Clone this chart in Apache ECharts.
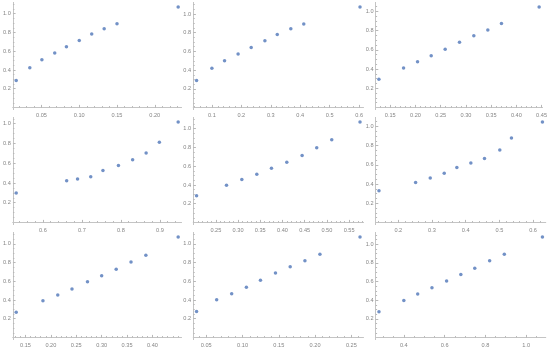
<!DOCTYPE html>
<html>
<head>
<meta charset="utf-8">
<script src="https://cdn.jsdelivr.net/npm/echarts@6/dist/echarts.min.js"></script>
<style>html,body{margin:0;padding:0;background:#fff}#c{width:550px;height:348px}</style>
</head>
<body>
<div id="c"></div>
<script>
// ---- data ----
const p1x = [0.0165, 0.0345, 0.0505, 0.0675, 0.083, 0.100, 0.1165, 0.133, 0.150, 0.231];
const p1y = [0.288, 0.423, 0.509, 0.580, 0.648, 0.715, 0.783, 0.840, 0.893, 1.071];
const p2x = [0.048, 0.100, 0.143, 0.189, 0.2335, 0.280, 0.322, 0.368, 0.412, 0.603];
const p2y = [0.289, 0.421, 0.500, 0.571, 0.643, 0.714, 0.782, 0.843, 0.893, 1.075];
const p3x = [0.1275, 0.1764, 0.2041, 0.2312, 0.2589, 0.2873, 0.3157, 0.3435, 0.3705, 0.4452];
const p3y = [0.293, 0.411, 0.475, 0.539, 0.607, 0.679, 0.746, 0.807, 0.875, 1.046];
const p4x = [0.5317, 0.661, 0.6889, 0.7227, 0.754, 0.7937, 0.8301, 0.8647, 0.8986, 0.9468];
const p4y = [0.299, 0.422, 0.439, 0.463, 0.527, 0.578, 0.636, 0.704, 0.813, 1.017];
const p5x = [0.2066, 0.274, 0.3085, 0.3422, 0.3752, 0.4097, 0.4442, 0.4771, 0.5109, 0.5746];
const p5y = [0.286, 0.396, 0.457, 0.514, 0.579, 0.643, 0.714, 0.796, 0.882, 1.071];
const p6x = [0.1427, 0.2514, 0.2948, 0.3363, 0.3738, 0.4153, 0.4558, 0.5012, 0.5358, 0.6277];
const p6y = [0.331, 0.415, 0.463, 0.512, 0.571, 0.620, 0.666, 0.753, 0.878, 1.045];
const p7x = [0.1318, 0.1844, 0.2136, 0.2416, 0.2721, 0.300, 0.3286, 0.3578, 0.387, 0.4506];
const p7y = [0.270, 0.392, 0.453, 0.518, 0.594, 0.658, 0.727, 0.806, 0.878, 1.072];
const p8x = [0.0366, 0.0643, 0.085, 0.1053, 0.1247, 0.1454, 0.1657, 0.186, 0.2067, 0.262];
const p8y = [0.277, 0.403, 0.468, 0.536, 0.612, 0.687, 0.755, 0.820, 0.888, 1.072];
const p9x = [0.278, 0.400, 0.468, 0.538, 0.6098, 0.6797, 0.748, 0.821, 0.893, 1.080];
const p9y = [0.276, 0.398, 0.467, 0.535, 0.607, 0.676, 0.744, 0.823, 0.892, 1.078];

// ---- tick labels ----
const xTicks1 = [0.05, 0.10, 0.15, 0.20];
const xTicks2 = [0.1, 0.2, 0.3, 0.4, 0.5, 0.6];
const xTicks3 = [0.15, 0.20, 0.25, 0.30, 0.35, 0.40, 0.45];
const xTicks4 = [0.6, 0.7, 0.8, 0.9];
const xTicks5 = [0.25, 0.30, 0.35, 0.40, 0.45, 0.50, 0.55];
const xTicks6 = [0.2, 0.3, 0.4, 0.5, 0.6];
const xTicks7 = [0.15, 0.20, 0.25, 0.30, 0.35, 0.40];
const xTicks8 = [0.05, 0.10, 0.15, 0.20, 0.25];
const xTicks9 = [0.4, 0.6, 0.8, 1.0];
const yTicks = [0.2, 0.4, 0.6, 0.8, 1.0];

const panels = [
  [p1x, p1y, xTicks1], [p2x, p2y, xTicks2], [p3x, p3y, xTicks3],
  [p4x, p4y, xTicks4], [p5x, p5y, xTicks5], [p6x, p6y, xTicks6],
  [p7x, p7y, xTicks7], [p8x, p8y, xTicks8], [p9x, p9y, xTicks9]
];

// ---- layout / style ----
const COL_LEFT = [11.4, 193.3, 375.7];
const ROW_TOP = [2.5, 117.5, 232.5];
const W = 170, H = 107;
const AXIS_COLOR = '#c4c4c4';
const TICK_COLOR = '#b8b8b8';
const LABEL_STYLE = { color: '#858585', fontSize: 5.6, fontFamily: 'Liberation Sans' };
const DOT = '#4F76B8';

const grid = [], xAxis = [], yAxis = [], series = [];
panels.forEach(([xs, ys, xt], i) => {
  const r = Math.floor(i / 3), c = i % 3;
  grid.push({ left: COL_LEFT[c], top: ROW_TOP[r], width: W, height: H });
  const xMinD = Math.min(...xs), xMaxD = Math.max(...xs);
  const pad = 0.02 * (xMaxD - xMinD);
  const xMin = xMinD - pad, xMax = xMaxD + pad;
  const yMaxD = Math.max(...ys);
  const yMin = -0.02 * yMaxD, yMax = 1.045 * yMaxD;
  const step = Math.round((xt[1] - xt[0]) * 1000) / 1000;
  const dec = step < 0.1 ? 2 : 1;
  const mstep = step === 0.05 ? 0.01 : (step === 0.1 ? 0.02 : 0.05);
  const minor = [];
  for (let v = Math.ceil(xMin / mstep) * mstep; v <= xMax; v += mstep) {
    const vv = Math.round(v * 1000) / 1000;
    if (vv >= xMin && vv <= xMax) minor.push(vv);
  }
  const base = {
    type: 'value', gridIndex: i, min: xMin, max: xMax, splitLine: { show: false },
    axisLine: { onZero: true, lineStyle: { color: AXIS_COLOR, width: 1 } }
  };
  xAxis.push(Object.assign({}, base, {
    position: 'bottom',
    axisTick: { show: true, inside: true, length: 2.6, lineStyle: { color: TICK_COLOR }, customValues: xt },
    axisLabel: Object.assign({ margin: 2.5, customValues: xt, formatter: v => v.toFixed(dec) }, LABEL_STYLE)
  }));
  xAxis.push(Object.assign({}, base, {
    position: 'bottom',
    axisTick: { show: true, inside: true, length: 1.4, lineStyle: { color: TICK_COLOR }, customValues: minor },
    axisLabel: { show: false }
  }));
  const yminor = [];
  for (let v = 0.05; v <= yMax; v += 0.05) yminor.push(Math.round(v * 100) / 100);
  const ybase = {
    type: 'value', gridIndex: i, min: yMin, max: yMax, splitLine: { show: false },
    axisLine: { onZero: true, lineStyle: { color: AXIS_COLOR, width: 1 } }
  };
  yAxis.push(Object.assign({}, ybase, {
    position: 'left',
    axisTick: { show: true, inside: true, length: 2.6, lineStyle: { color: TICK_COLOR }, customValues: yTicks },
    axisLabel: Object.assign({ margin: 2.2, customValues: yTicks, formatter: v => v.toFixed(1) }, LABEL_STYLE)
  }));
  yAxis.push(Object.assign({}, ybase, {
    position: 'left',
    axisTick: { show: true, inside: true, length: 1.4, lineStyle: { color: TICK_COLOR }, customValues: yminor },
    axisLabel: { show: false }
  }));
  series.push({
    type: 'scatter', xAxisIndex: 2 * i, yAxisIndex: 2 * i,
    data: xs.map((x, k) => [x, ys[k]]),
    symbolSize: 3.5, itemStyle: { color: DOT }, silent: true
  });
});

const chart = echarts.init(document.getElementById('c'), null, { renderer: 'canvas' });
chart.setOption({ animation: false, grid, xAxis, yAxis, series });
</script>
</body>
</html>
